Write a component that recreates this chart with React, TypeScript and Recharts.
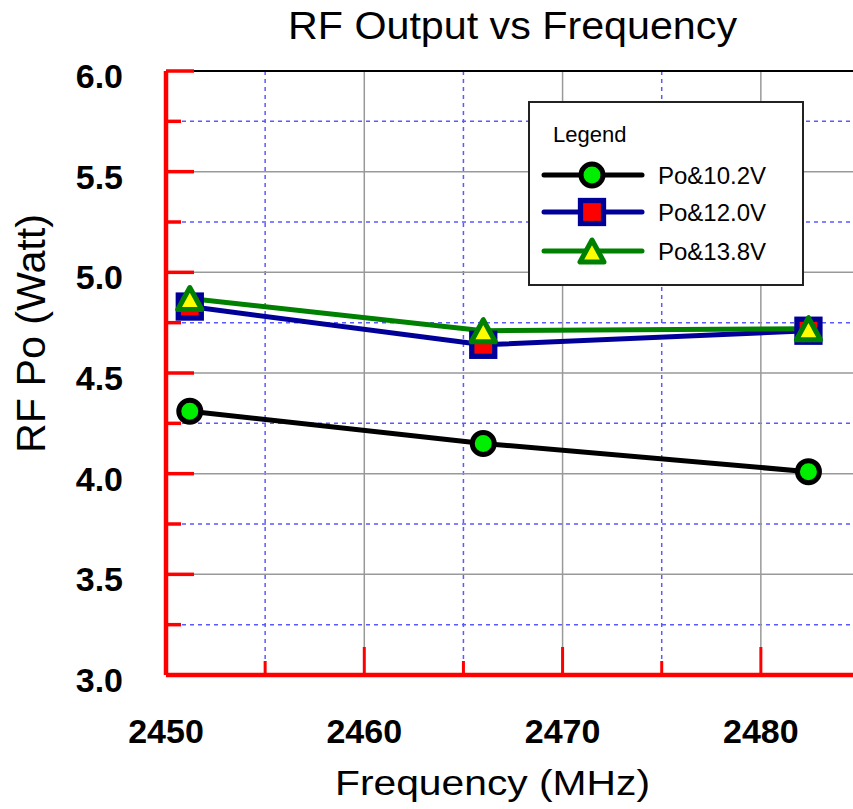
import React from "react";
import { LineChart, Line, XAxis, YAxis, ReferenceLine, Legend } from "recharts";

const frequencies = [2451.2, 2466, 2482.4];
const po102V = [4.31, 4.15, 4.01];
const po120V = [4.83, 4.64, 4.71];
const po138V = [4.87, 4.71, 4.72];

const xTicks = [2450, 2455, 2460, 2465, 2470, 2475, 2480];
const xLabels = [2450, 2460, 2470, 2480];
const yTicks = [3, 3.25, 3.5, 3.75, 4, 4.25, 4.5, 4.75, 5, 5.25, 5.5, 5.75, 6];
const yLabels = [3, 3.5, 4, 4.5, 5, 5.5, 6];

const SERIES = [
  { key: "v102", name: "Po&10.2V", color: "#000000", marker: "circle" },
  { key: "v120", name: "Po&12.0V", color: "#000099", marker: "square" },
  { key: "v138", name: "Po&13.8V", color: "#008000", marker: "triangle" },
];

const data = frequencies.map((f, i) => ({
  freq: f,
  v102: po102V[i],
  v120: po120V[i],
  v138: po138V[i],
}));

const FONT = '"Liberation Sans", Arial, Helvetica, sans-serif';
const RED = "#ff0000";

const xMajorGrid = xLabels.filter((v) => v !== 2450);
const xMinorGrid = xTicks.filter((v) => !xLabels.includes(v));
const yMajorGrid = yLabels.filter((v) => v !== 3 && v !== 6);
const yMinorGrid = yTicks.filter((v) => !yLabels.includes(v));

function Marker({ kind, cx, cy }: { kind: string; cx: number; cy: number }) {
  if (kind === "circle") {
    return <circle cx={cx} cy={cy} r={11} fill="#00ee00" stroke="#000" strokeWidth={5} />;
  }
  if (kind === "square") {
    return (
      <rect x={cx - 11.5} y={cy - 11.5} width={23} height={23} fill="#ff0000" stroke="#000099" strokeWidth={5.3} />
    );
  }
  return (
    <path
      d={`M${cx},${cy - 11} L${cx - 12},${cy + 11} L${cx + 12},${cy + 11} Z`}
      fill="#ffff00"
      stroke="#008000"
      strokeWidth={5}
      strokeLinejoin="round"
    />
  );
}

function YTick(props: any) {
  const { x, y, payload } = props;
  const major = yLabels.includes(payload.value);
  return (
    <g>
      <line x1={x} y1={y} x2={x + (major ? 28 : 15)} y2={y} stroke={RED} strokeWidth={3.5} />
      {major && (
        <text x={x - 43} y={y + 5} textAnchor="end" dominantBaseline="central" fontFamily={FONT} fontWeight="bold" fontSize={34} fill="#000">
          {payload.value.toFixed(1)}
        </text>
      )}
    </g>
  );
}

function XTick(props: any) {
  const { x, y, payload } = props;
  const major = xLabels.includes(payload.value);
  return (
    <g>
      <line x1={x} y1={y} x2={x} y2={y - (major ? 28 : 14)} stroke={RED} strokeWidth={3} />
      {major && (
        <text x={x} y={y + 68} textAnchor="middle" fontFamily={FONT} fontWeight="bold" fontSize={34} fill="#000">
          {payload.value}
        </text>
      )}
    </g>
  );
}

function LegendBox() {
  const rows = [74, 111, 150];
  return (
    <svg width={276} height={185} style={{ display: "block" }}>
      <rect x={1} y={1} width={274} height={183} fill="#fff" stroke="#222" strokeWidth={2} />
      <text x={25} y={41} fontFamily={FONT} fontSize={22} fill="#000">
        Legend
      </text>
      {SERIES.map((s, i) => (
        <g key={s.key}>
          <line x1={16} y1={rows[i]} x2={114} y2={rows[i]} stroke={s.color} strokeWidth={5} strokeLinecap="round" />
          <Marker kind={s.marker} cx={64} cy={rows[i]} />
          <text x={130} y={rows[i]} dominantBaseline="central" fontFamily={FONT} fontSize={24} fill="#000">
            {s.name}
          </text>
        </g>
      ))}
    </svg>
  );
}

export default function App() {
  return (
    <div style={{ position: "absolute", left: 0, top: 0, width: 853, height: 809, overflow: "hidden", background: "#fff" }}>
      <LineChart width={870} height={809} data={data} margin={{ top: 71, right: 10, bottom: 0, left: 0 }}>
        {xMinorGrid.map((v) => (
          <ReferenceLine key={`xm${v}`} x={v} stroke="#5a5aff" strokeWidth={1.5} strokeDasharray="4 4" />
        ))}
        {yMinorGrid.map((v) => (
          <ReferenceLine key={`ym${v}`} y={v} stroke="#5a5aff" strokeWidth={1.5} strokeDasharray="4 4" />
        ))}
        {xMajorGrid.map((v) => (
          <ReferenceLine key={`xM${v}`} x={v} stroke="#999" strokeWidth={1.5} />
        ))}
        {yMajorGrid.map((v) => (
          <ReferenceLine key={`yM${v}`} y={v} stroke="#999" strokeWidth={1.5} />
        ))}
        <ReferenceLine y={6} stroke="#000" strokeWidth={2} />
        <XAxis
          dataKey="freq"
          type="number"
          domain={[2450, 2485]}
          ticks={xTicks}
          interval={0}
          height={134}
          tickSize={0}
          tickMargin={0}
          axisLine={{ stroke: RED, strokeWidth: 4.5 }}
          tickLine={false}
          tick={<XTick />}
        />
        <YAxis
          type="number"
          domain={[3, 6]}
          ticks={yTicks}
          interval={0}
          width={166}
          tickSize={0}
          tickMargin={0}
          axisLine={{ stroke: RED, strokeWidth: 4.5 }}
          tickLine={false}
          tick={<YTick />}
        />
        {SERIES.map((s) => (
          <Line
            key={s.key}
            dataKey={s.key}
            name={s.name}
            stroke={s.color}
            strokeWidth={5}
            isAnimationActive={false}
            dot={(p: any) => <Marker key={`${s.key}-${p.index}`} kind={s.marker} cx={p.cx} cy={p.cy} />}
            activeDot={false}
          />
        ))}
        <Legend
          layout="vertical"
          align="center"
          verticalAlign="middle"
          wrapperStyle={{ position: "absolute", left: 528, top: 101, width: 276, height: 185 }}
          content={() => <LegendBox />}
        />
      </LineChart>
      <svg width={853} height={809} style={{ position: "absolute", left: 0, top: 0, pointerEvents: "none" }}>
        <text x={512.5} y={39} textAnchor="middle" fontFamily={FONT} fontSize={38} textLength={449} lengthAdjust="spacingAndGlyphs" fill="#000">
          RF Output vs Frequency
        </text>
        <text x={492.5} y={795} textAnchor="middle" fontFamily={FONT} fontSize={35} textLength={315} lengthAdjust="spacingAndGlyphs" fill="#000">
          Frequency (MHz)
        </text>
        <text transform="translate(45,333.5) rotate(-90)" textAnchor="middle" fontFamily={FONT} fontSize={41} textLength={239} lengthAdjust="spacingAndGlyphs" fill="#000">
          RF Po (Watt)
        </text>
      </svg>
    </div>
  );
}
